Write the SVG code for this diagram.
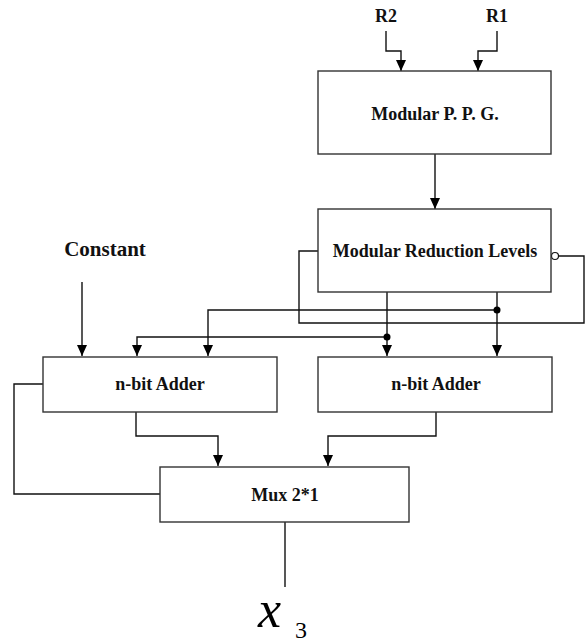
<svg xmlns="http://www.w3.org/2000/svg" width="585" height="643" viewBox="0 0 585 643">
<style>
.box{fill:#fff;stroke:#333;stroke-width:1.4}
.lbl{font-family:"Liberation Serif","Times New Roman",serif;font-weight:bold;font-size:18px;fill:#111;text-anchor:middle}
.ln{fill:none;stroke:#111;stroke-width:1.4}
.ar{fill:none;stroke:#111;stroke-width:1.4;marker-end:url(#ah)}
</style>
<defs>
<marker id="ah" markerUnits="userSpaceOnUse" markerWidth="12" markerHeight="12" viewBox="0 0 12 12" refX="11" refY="6" orient="auto">
<path d="M0,1 L11,6 L0,11 Z" fill="#000"/>
</marker>
</defs>
<rect width="585" height="643" fill="#fff"/>
<g id="connectors">
<polyline class="ar" points="386,31 386,51 401,51 401,71"/>
<polyline class="ar" points="497,31 497,51 478,51 478,71"/>
<polyline class="ar" points="435,154 435,209"/>
<polyline class="ln" points="318,251 299,251 299,323 584,323 584,256 558.5,256"/>
<circle cx="555" cy="256" r="3.5" fill="#fff" stroke="#111" stroke-width="1.2"/>
<polyline class="ar" points="387,292 387,356"/>
<polyline class="ar" points="497,292 497,356"/>
<polyline class="ar" points="497,310 208,310 208,356"/>
<polyline class="ar" points="387,337 137,337 137,356"/>
<circle cx="497" cy="310" r="3.5" fill="#000"/>
<circle cx="387" cy="337" r="3.5" fill="#000"/>
<polyline class="ar" points="82,282 82,356"/>
<polyline class="ln" points="43,384 14,384 14,494 160,494"/>
<polyline class="ar" points="136,412 136,436 218,436 218,466"/>
<polyline class="ar" points="436,412 436,436 328,436 328,466"/>
<polyline class="ln" points="285,522 285,587" stroke="#444"/>
</g>
<g id="r2"><text class="lbl" x="386" y="22">R2</text></g>
<g id="r1"><text class="lbl" x="497" y="22">R1</text></g>
<g id="ppg"><rect class="box" x="318" y="71" width="233" height="83"/><text class="lbl" x="435" y="120">Modular P. P. G.</text></g>
<g id="mrl"><rect class="box" x="318" y="209" width="233" height="83"/><text class="lbl" x="435" y="257">Modular Reduction Levels</text></g>
<g id="constant"><text class="lbl" x="105" y="256" style="font-size:21px">Constant</text></g>
<g id="adder1"><rect class="box" x="43" y="357" width="234" height="55"/><text class="lbl" x="160" y="390">n-bit Adder</text></g>
<g id="adder2"><rect class="box" x="318" y="357" width="234" height="55"/><text class="lbl" x="436" y="390">n-bit Adder</text></g>
<g id="mux"><rect class="box" x="160" y="467" width="249" height="55"/><text class="lbl" x="285" y="501">Mux 2*1</text></g>
<g id="x3"><text x="258" y="627" font-family="Liberation Serif,Times New Roman,serif" font-style="italic" font-size="52" fill="#000">x</text><text x="295" y="638" font-family="Liberation Serif,Times New Roman,serif" font-size="24" fill="#000">3</text></g>
</svg>
